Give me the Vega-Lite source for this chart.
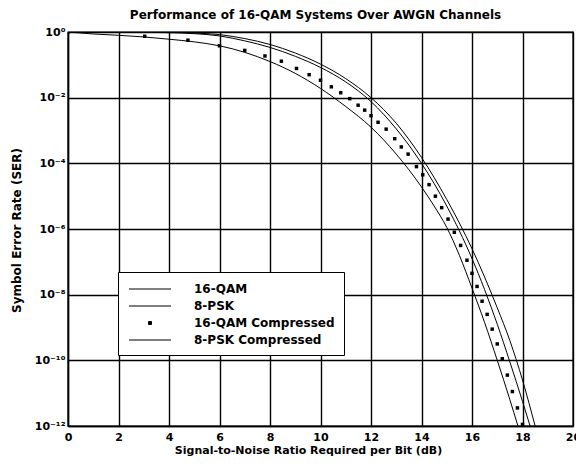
{
  "$schema": "https://vega.github.io/schema/vega-lite/v6.json",
  "width": 505,
  "height": 394,
  "autosize": {"type": "none"},
  "padding": {"left": 68, "top": 32, "right": 3, "bottom": 41},
  "background": "white",
  "title": {"text": "Performance of 16-QAM Systems Over AWGN Channels", "font": "DejaVu Sans", "fontSize": 12, "fontWeight": "bold", "color": "black", "anchor": "middle", "baseline": "alphabetic", "offset": -5, "dx": -5},
  "config": {"view": {"stroke": "black", "strokeWidth": 1.4}, "font": "DejaVu Sans"},
  "data": {"values": [
    {"series": "16-QAM", "x": 0, "ser": 1},
    {"series": "16-QAM", "x": 1, "ser": 0.871},
    {"series": "16-QAM", "x": 2, "ser": 0.794},
    {"series": "16-QAM", "x": 3, "ser": 0.708},
    {"series": "16-QAM", "x": 4, "ser": 0.603},
    {"series": "16-QAM", "x": 5, "ser": 0.501},
    {"series": "16-QAM", "x": 6, "ser": 0.380},
    {"series": "16-QAM", "x": 7, "ser": 0.240},
    {"series": "16-QAM", "x": 8, "ser": 0.126},
    {"series": "16-QAM", "x": 9, "ser": 0.0550},
    {"series": "16-QAM", "x": 10, "ser": 0.0191},
    {"series": "16-QAM", "x": 11, "ser": 0.00537},
    {"series": "16-QAM", "x": 12, "ser": 0.00126},
    {"series": "16-QAM", "x": 13, "ser": 1.91e-4},
    {"series": "16-QAM", "x": 14, "ser": 1.91e-5},
    {"series": "16-QAM", "x": 14.5, "ser": 5.01e-6},
    {"series": "16-QAM", "x": 15, "ser": 1.12e-6},
    {"series": "16-QAM", "x": 15.5, "ser": 1.58e-7},
    {"series": "16-QAM", "x": 16, "ser": 1.58e-8},
    {"series": "16-QAM", "x": 16.5, "ser": 1.41e-9},
    {"series": "16-QAM", "x": 17, "ser": 1e-10},
    {"series": "16-QAM", "x": 17.5, "ser": 6.31e-12},
    {"series": "16-QAM", "x": 17.82, "ser": 1e-12},
    {"series": "8-PSK Compressed", "x": 0, "ser": 1},
    {"series": "8-PSK Compressed", "x": 2, "ser": 0.989},
    {"series": "8-PSK Compressed", "x": 4, "ser": 0.955},
    {"series": "8-PSK Compressed", "x": 5, "ser": 0.891},
    {"series": "8-PSK Compressed", "x": 6, "ser": 0.759},
    {"series": "8-PSK Compressed", "x": 7, "ser": 0.537},
    {"series": "8-PSK Compressed", "x": 8, "ser": 0.339},
    {"series": "8-PSK Compressed", "x": 9, "ser": 0.182},
    {"series": "8-PSK Compressed", "x": 10, "ser": 0.0832},
    {"series": "8-PSK Compressed", "x": 11, "ser": 0.0302},
    {"series": "8-PSK Compressed", "x": 12, "ser": 0.00759},
    {"series": "8-PSK Compressed", "x": 13, "ser": 0.00112},
    {"series": "8-PSK Compressed", "x": 14, "ser": 1e-4},
    {"series": "8-PSK Compressed", "x": 15, "ser": 5.01e-6},
    {"series": "8-PSK Compressed", "x": 16, "ser": 1.26e-7},
    {"series": "8-PSK Compressed", "x": 17, "ser": 1.26e-9},
    {"series": "8-PSK Compressed", "x": 17.5, "ser": 8.91e-11},
    {"series": "8-PSK Compressed", "x": 18, "ser": 5.62e-12},
    {"series": "8-PSK Compressed", "x": 18.3, "ser": 1e-12},
    {"series": "8-PSK", "x": 0, "ser": 1},
    {"series": "8-PSK", "x": 2, "ser": 1},
    {"series": "8-PSK", "x": 4, "ser": 0.977},
    {"series": "8-PSK", "x": 5, "ser": 0.933},
    {"series": "8-PSK", "x": 6, "ser": 0.832},
    {"series": "8-PSK", "x": 7, "ser": 0.631},
    {"series": "8-PSK", "x": 8, "ser": 0.417},
    {"series": "8-PSK", "x": 9, "ser": 0.229},
    {"series": "8-PSK", "x": 10, "ser": 0.105},
    {"series": "8-PSK", "x": 11, "ser": 0.0380},
    {"series": "8-PSK", "x": 12, "ser": 0.01},
    {"series": "8-PSK", "x": 13, "ser": 0.00166},
    {"series": "8-PSK", "x": 14, "ser": 1.51e-4},
    {"series": "8-PSK", "x": 15, "ser": 7.94e-6},
    {"series": "8-PSK", "x": 16, "ser": 2.51e-7},
    {"series": "8-PSK", "x": 17, "ser": 3.98e-9},
    {"series": "8-PSK", "x": 17.5, "ser": 3.98e-10},
    {"series": "8-PSK", "x": 18, "ser": 2.51e-11},
    {"series": "8-PSK", "x": 18.5, "ser": 1e-12},
    {"series": "16-QAM Compressed", "x": 0, "ser": 1},
    {"series": "16-QAM Compressed", "x": 3.04, "ser": 0.741},
    {"series": "16-QAM Compressed", "x": 4.75, "ser": 0.562},
    {"series": "16-QAM Compressed", "x": 6.0, "ser": 0.380},
    {"series": "16-QAM Compressed", "x": 7.0, "ser": 0.275},
    {"series": "16-QAM Compressed", "x": 7.8, "ser": 0.186},
    {"series": "16-QAM Compressed", "x": 8.45, "ser": 0.129},
    {"series": "16-QAM Compressed", "x": 9.05, "ser": 0.0776},
    {"series": "16-QAM Compressed", "x": 9.55, "ser": 0.0501},
    {"series": "16-QAM Compressed", "x": 10.0, "ser": 0.0339},
    {"series": "16-QAM Compressed", "x": 10.43, "ser": 0.0214},
    {"series": "16-QAM Compressed", "x": 10.8, "ser": 0.0141},
    {"series": "16-QAM Compressed", "x": 11.16, "ser": 0.00933},
    {"series": "16-QAM Compressed", "x": 11.49, "ser": 0.00589},
    {"series": "16-QAM Compressed", "x": 11.75, "ser": 0.00417},
    {"series": "16-QAM Compressed", "x": 12.0, "ser": 0.00282},
    {"series": "16-QAM Compressed", "x": 12.28, "ser": 0.00178},
    {"series": "16-QAM Compressed", "x": 12.6, "ser": 0.00110},
    {"series": "16-QAM Compressed", "x": 12.94, "ser": 5.62e-4},
    {"series": "16-QAM Compressed", "x": 13.2, "ser": 3.16e-4},
    {"series": "16-QAM Compressed", "x": 13.47, "ser": 1.91e-4},
    {"series": "16-QAM Compressed", "x": 13.8, "ser": 7.94e-5},
    {"series": "16-QAM Compressed", "x": 14.05, "ser": 4.47e-5},
    {"series": "16-QAM Compressed", "x": 14.3, "ser": 2.24e-5},
    {"series": "16-QAM Compressed", "x": 14.55, "ser": 1e-5},
    {"series": "16-QAM Compressed", "x": 14.8, "ser": 4.47e-6},
    {"series": "16-QAM Compressed", "x": 15.05, "ser": 2.0e-6},
    {"series": "16-QAM Compressed", "x": 15.3, "ser": 7.94e-7},
    {"series": "16-QAM Compressed", "x": 15.55, "ser": 3.16e-7},
    {"series": "16-QAM Compressed", "x": 15.8, "ser": 1.12e-7},
    {"series": "16-QAM Compressed", "x": 16.0, "ser": 4.47e-8},
    {"series": "16-QAM Compressed", "x": 16.2, "ser": 1.78e-8},
    {"series": "16-QAM Compressed", "x": 16.4, "ser": 6.31e-9},
    {"series": "16-QAM Compressed", "x": 16.6, "ser": 2.51e-9},
    {"series": "16-QAM Compressed", "x": 16.8, "ser": 8.91e-10},
    {"series": "16-QAM Compressed", "x": 17.0, "ser": 3.16e-10},
    {"series": "16-QAM Compressed", "x": 17.2, "ser": 1.12e-10},
    {"series": "16-QAM Compressed", "x": 17.4, "ser": 3.55e-11},
    {"series": "16-QAM Compressed", "x": 17.6, "ser": 1.12e-11},
    {"series": "16-QAM Compressed", "x": 17.8, "ser": 3.55e-12},
    {"series": "16-QAM Compressed", "x": 18.0, "ser": 1.12e-12}
  ]},
  "encoding": {
    "x": {
      "field": "x", "type": "quantitative",
      "scale": {"domain": [0, 20], "nice": false, "zero": false},
      "axis": {
        "values": [0, 2, 4, 6, 8, 10, 12, 14, 16, 18, 20],
        "title": "Signal-to-Noise Ratio Required per Bit (dB)",
        "grid": true, "gridColor": "black", "gridWidth": 1.4, "gridOpacity": 1,
        "domainColor": "black", "domainWidth": 1.4, "ticks": false,
        "labelFont": "DejaVu Sans", "labelFontSize": 11, "labelFontWeight": "bold", "labelColor": "black",
        "labelPadding": 5, "labelFlush": false, "labelOverlap": false,
        "titleFont": "DejaVu Sans", "titleFontSize": 11, "titleFontWeight": "bold", "titleColor": "black",
        "titlePadding": 2, "titleX": 240
      }
    },
    "y": {
      "field": "ser", "type": "quantitative",
      "scale": {"type": "log", "domain": [1e-12, 1], "nice": false},
      "axis": {
        "values": [1, 0.01, 0.0001, 1e-6, 1e-8, 1e-10, 1e-12],
        "labelExpr": "datum.value > 0.1 ? '10⁰' : datum.value > 1e-3 ? '10⁻²' : datum.value > 1e-5 ? '10⁻⁴' : datum.value > 1e-7 ? '10⁻⁶' : datum.value > 1e-9 ? '10⁻⁸' : datum.value > 1e-11 ? '10⁻¹⁰' : '10⁻¹²'",
        "title": "Symbol Error Rate (SER)",
        "grid": true, "gridColor": "black", "gridWidth": 1.4, "gridOpacity": 1,
        "domainColor": "black", "domainWidth": 1.4, "ticks": false,
        "labelFont": "DejaVu Sans", "labelFontSize": 11, "labelFontWeight": "bold", "labelColor": "black",
        "labelPadding": 3, "labelOverlap": false, "labelFlush": false,
        "titleFont": "DejaVu Sans", "titleFontSize": 12, "titleFontWeight": "bold", "titleColor": "black",
        "titleX": -45, "titleY": 198
      }
    },
    "color": {
      "field": "series", "type": "nominal",
      "scale": {"domain": ["16-QAM", "8-PSK", "16-QAM Compressed", "8-PSK Compressed"], "range": ["black", "black", "black", "black"]},
      "legend": {
        "title": null, "orient": "none", "legendX": 50, "legendY": 240, "direction": "vertical",
        "padding": 9, "strokeColor": "black", "fillColor": "white",
        "labelFont": "DejaVu Sans", "labelFontSize": 12, "labelFontWeight": "bold", "labelColor": "black", "labelLimit": 300,
        "symbolSize": 225, "symbolStrokeWidth": 1, "symbolType": "M-0.8,0H4.8", "symbolOffset": 0,
        "labelOffset": 51, "rowPadding": 3,
        "encode": {
          "symbols": {
            "update": {
              "shape": {"signal": "datum.value === '16-QAM Compressed' ? 'M1.8,-0.2H2.2V0.2H1.8Z' : 'M-0.8,0H4.8'"},
              "fill": {"signal": "datum.value === '16-QAM Compressed' ? 'black' : 'transparent'"},
              "stroke": {"value": "black"},
              "strokeWidth": {"value": 1},
              "opacity": {"value": 1}
            }
          }
        }
      }
    }
  },
  "layer": [
    {
      "transform": [{"filter": "datum.series !== '16-QAM Compressed'"}],
      "mark": {"type": "line", "strokeWidth": 1, "interpolate": "monotone", "clip": true}
    },
    {
      "transform": [{"filter": "datum.series === '16-QAM Compressed'"}],
      "mark": {"type": "point", "shape": "square", "filled": true, "size": 12, "opacity": 1, "clip": true}
    }
  ]
}
